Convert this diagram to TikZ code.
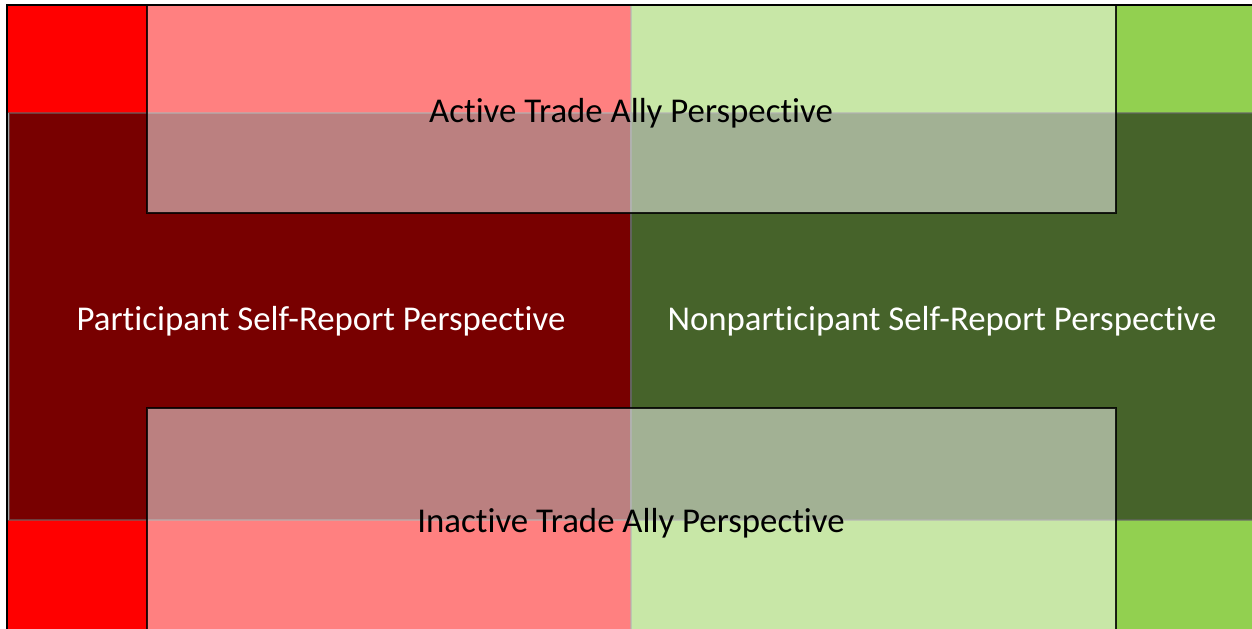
\documentclass[tikz,border=0pt]{standalone}
\usepackage{fontspec}
\setmainfont[Ligatures=NoCommon]{Carlito}
\definecolor{pred}{HTML}{FF0000}
\definecolor{pdark}{HTML}{780000}
\definecolor{ngreen}{HTML}{92D050}
\definecolor{ndark}{HTML}{46632A}
\tikzset{
  quad/.style={draw=black!60, draw opacity=0.6, line width=0.6pt},
  overlay/.style={fill=white, fill opacity=0.5, draw=black, draw opacity=0.85, line width=1pt},
  lbl/.style={font=\fontsize{17.4}{20}\selectfont, inner sep=0pt},
}
\begin{document}
\begin{tikzpicture}[x=0.5pt,y=-0.5pt]
\useasboundingbox (0,0) rectangle (1252,628);
\fill[white] (0,0) rectangle (1252,628);
% quadrant bands
\fill[pred] (7,5) rectangle (631,113);
\fill[ngreen] (631,5) rectangle (1254,113);
\fill[pred] (7,520) rectangle (631,630);
\fill[ngreen] (631,520) rectangle (1254,630);
\draw[quad, fill=pdark] (9,113) rectangle (631,520);
\draw[quad, fill=ndark] (631,113) rectangle (1256,520);
\draw[quad] (631,5) -- (631,630);
% translucent overlays
\draw[overlay] (147,5) rectangle (1116,213);
\draw[overlay] (147,408) rectangle (1116,632);
% frame
\draw[black, line width=1.2pt] (7,630) -- (7,5) -- (1254,5);
% labels
\node[lbl, text=black] (active) at (631,113) {Active Trade Ally Perspective};
\node[lbl, text=white] (part) at (321,321) {Participant Self-Report Perspective};
\node[lbl, text=white] (nonpart) at (942,321) {Nonparticipant Self-Report Perspective};
\node[lbl, text=black] (inactive) at (631,523) {Inactive Trade Ally Perspective};
\end{tikzpicture}
\end{document}
